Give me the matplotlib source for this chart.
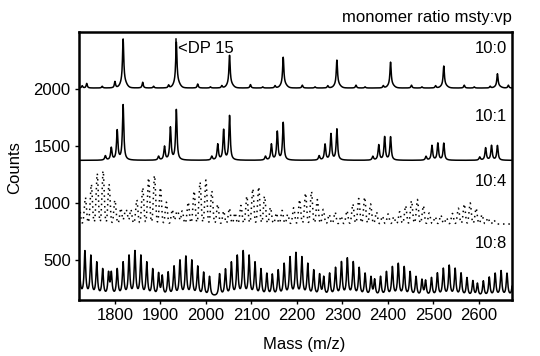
import numpy as np
import matplotlib
matplotlib.use("Agg")
import matplotlib.pyplot as plt

plt.rcParams["font.family"] = ["Liberation Sans", "DejaVu Sans"]

# ---- data ----
# main oligomer peaks (Da), one per DP
main_mass = [1818, 1935, 2052, 2170, 2288, 2406, 2523, 2641]

# 10:0  (pure msty)
base_100 = 2005
top_100 = [2435, 2408, 2292, 2275, 2250, 2232, 2198, 2130]
minor_mass_100 = [1728, 1738, 1772, 1800, 1861, 1885, 1918, 1982, 2010, 2035,
                  2098, 2125, 2152, 2212, 2240, 2268, 2330, 2350, 2390, 2452,
                  2475, 2505, 2568, 2590, 2625, 2665]
minor_top_100 = [2025, 2045, 2020, 2060, 2055, 2020, 2030, 2040, 2015, 2025,
                 2035, 2015, 2025, 2030, 2015, 2025, 2030, 2015, 2025, 2030,
                 2015, 2025, 2030, 2015, 2020, 2030]

# 10:1  (offsets -39, -26, -13, 0 Da from main peak)
base_101 = 1372
offs_101 = [-39, -26, -13, 0]
tops_101 = [
    [1410, 1480, 1630, 1855],
    [1405, 1490, 1655, 1812],
    [1405, 1510, 1635, 1760],
    [1405, 1510, 1620, 1700],
    [1410, 1510, 1600, 1643],
    [1405, 1505, 1575, 1575],
    [1405, 1500, 1520, 1520],
    [1400, 1480, 1500, 1500],
]

# 10:4  (broad groups, dotted trace)
base_104 = 815
center_104 = [1774, 1887, 2000, 2116, 2232, 2349, 2465, 2581]
top_104 = [1280, 1240, 1200, 1140, 1100, 1050, 1030, 1000]
offs_104 = [-65, -52, -39, -26, -13, 0, 13, 26, 39, 52]
shape_104 = [0.2, 0.3, 0.5, 0.75, 0.95, 1.0, 0.75, 0.45, 0.3, 0.2]

# 10:8  (dense comb of peaks)
base_108 = 175
center_108 = [1734, 1844, 1956, 2082, 2198, 2311, 2423, 2535, 2649]
top_108 = [665, 665, 620, 665, 650, 605, 560, 545, 500]
offs_108 = [-52, -39, -26, -13, 0, 13, 26, 39, 52]
shape_108 = [0.5, 0.6, 0.75, 0.9, 1.0, 0.9, 0.75, 0.6, 0.5]

labels = ["10:0", "10:1", "10:4", "10:8"]
xticks = [1800, 1900, 2000, 2100, 2200, 2300, 2400, 2500, 2600]
yticks = [500, 1000, 1500, 2000]

# ---- build traces ----
x = np.arange(1721, 2673.5, 0.5)


def lor(c, h, w):
    return h / (1.0 + ((x - c) / w) ** 2)


def gau(c, h, w):
    return h * np.exp(-0.5 * ((x - c) / w) ** 2)


y100 = np.full_like(x, float(base_100))
for c, t in zip(main_mass, top_100):
    h = t - base_100
    y100 += lor(c, 0.88 * h, 1.6) + gau(c + 1, 0.12 * h, 6.0)
for c, t in zip(minor_mass_100, minor_top_100):
    y100 += lor(c, t - base_100, 1.5)

y101 = np.full_like(x, float(base_101))
for m, tops in zip(main_mass, tops_101):
    for o, t in zip(offs_101, tops):
        y101 += lor(m + o, t - base_101, 1.8)

y104 = np.full_like(x, float(base_104))
for c, t in zip(center_104, top_104):
    for o, s in zip(offs_104, shape_104):
        y104 += gau(c + o, (t - base_104) * s, 2.4)

y108 = np.full_like(x, float(base_108))
for c, t in zip(center_108, top_108):
    for o, s in zip(offs_108, shape_108):
        y108 += lor(c + o, (t - 280) * s, 2.0)

# ---- figure ----
fig = plt.figure(figsize=(5.4, 3.56), dpi=100)
ax = fig.add_axes([79 / 540, 1 - 300 / 356, 433 / 540, 268.5 / 356])

ax.plot(x, y100, color="black", lw=1.1)
ax.plot(x, y101, color="black", lw=1.1)
ax.plot(x, y104, color="black", lw=1.1, linestyle=(0, (1, 2.5)))
ax.plot(x, y108, color="black", lw=1.1)

ax.set_xlim(1721, 2673)
ax.set_ylim(150, 2500)
ax.set_xticks(xticks)
ax.set_yticks(yticks)
ax.tick_params(direction="out", length=3, width=1, labelsize=12, pad=3)
for sp in ax.spines.values():
    sp.set_linewidth(1.8)

# DP 15 marker
ax.plot([main_mass[1], main_mass[1]], [2250, 2430], color="black", lw=1.1)
ax.text(main_mass[1] + 3, 2355, "<DP 15", fontsize=12, ha="left", va="center")

for lab, yy in zip(labels, [0.935, 0.682, 0.44, 0.212]):
    ax.text(0.988, yy, lab, transform=ax.transAxes, fontsize=12,
            ha="right", va="center")

fig.text(0.948, 0.952, "monomer ratio msty:vp", fontsize=12, ha="right", va="center")
fig.text(0.563, 0.031, "Mass (m/z)", fontsize=12, ha="center", va="center")
fig.text(0.028, 0.528, "Counts", fontsize=12, ha="center", va="center", rotation=90)

fig.savefig("out.png", dpi=100)
